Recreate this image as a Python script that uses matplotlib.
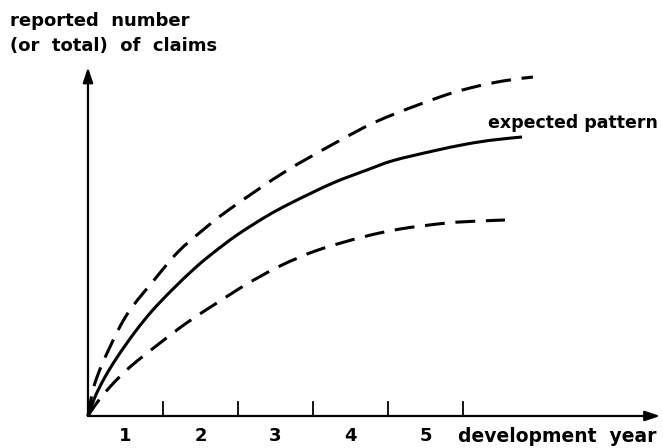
import matplotlib
matplotlib.use('Agg')
import matplotlib.pyplot as plt
from matplotlib.path import Path
from matplotlib.patches import PathPatch
import numpy as np

# Sketch of a claims development pattern with upper/lower bands
# (x in development years, y in arbitrary units)
upper_x = [0, 0.093, 0.293, 0.533, 0.893, 1.2, 1.533, 1.893, 2.6, 3.32,
           3.893, 4.653, 5.093, 5.533, 5.933]
upper_y = [0, 0.44, 0.92, 1.373, 1.827, 2.187, 2.48, 2.76, 3.24, 3.653,
           3.947, 4.24, 4.373, 4.467, 4.52]

expected_x = [0, 0.093, 0.227, 0.4, 0.627, 0.853, 1.12, 1.427, 1.667, 1.987,
              2.387, 2.733, 3.267, 3.72, 4.067, 4.6, 5.053, 5.4, 5.787]
expected_y = [0, 0.253, 0.52, 0.8, 1.12, 1.4, 1.68, 1.973, 2.173, 2.413,
              2.667, 2.853, 3.107, 3.28, 3.405, 3.533, 3.627, 3.68, 3.72]

lower_x = [0, 0.107, 0.293, 0.56, 0.96, 1.333, 1.76, 2.12, 2.56, 3.067,
           3.667, 4.16, 4.787, 5.227, 5.56]
lower_y = [0, 0.16, 0.387, 0.653, 0.973, 1.253, 1.533, 1.76, 2.0, 2.213,
           2.387, 2.493, 2.573, 2.6, 2.613]

years = [1, 2, 3, 4, 5]
year_labels = ['1', '2', '3', '4', '5']


def smooth_path(xs, ys):
    # Catmull-Rom through the read points, handed to matplotlib as Bezier curves
    p = np.column_stack([xs, ys]).astype(float)
    verts = [p[0]]
    codes = [Path.MOVETO]
    for i in range(len(p) - 1):
        p0 = p[i - 1] if i > 0 else p[i]
        p3 = p[i + 2] if i + 2 < len(p) else p[i + 1]
        c1 = p[i] + (p[i + 1] - p0) / 6.0
        c2 = p[i + 1] - (p3 - p[i]) / 6.0
        verts += [c1, c2, p[i + 1]]
        codes += [Path.CURVE4] * 3
    return Path(verts, codes)


fig = plt.figure(figsize=(6.63, 4.48), dpi=100)
ax = fig.add_axes([0, 0, 1, 1])
ax.set_xlim(-1.173, 7.667)
ax.set_ylim(-0.427, 5.547)
ax.axis('off')

font = dict(family='DejaVu Sans', fontweight='bold', fontsize=13, color='black')

# axes with arrow heads
arrow = dict(arrowstyle='-|>,head_length=0.9,head_width=0.3', lw=1.6,
             color='black', shrinkA=0, shrinkB=0)
ax.annotate('', xy=(7.63, 0), xytext=(0, 0), arrowprops=arrow)
ax.annotate('', xy=(0, 4.65), xytext=(0, 0), arrowprops=arrow)

# tick marks between years, labels centred in each year
for t in years:
    ax.plot([t, t], [0, 0.19], color='black', lw=1.3)
for t, lab in zip(years, year_labels):
    ax.text(t - 0.5, -0.27, lab, ha='center', va='center', **font)

ax.text(4.93, -0.27, 'development  year', ha='left', va='center',
        **dict(font, fontsize=13.5))
ax.text(-1.04, 5.39, 'reported  number\n(or  total)  of  claims', ha='left',
        va='top', linespacing=1.5, **font)
ax.text(5.33, 3.91, 'expected pattern', ha='left', va='center',
        **dict(font, fontsize=12.5))

dash = (0, (6.5, 3.5))
for xs, ys, ls in [(upper_x, upper_y, dash),
                   (expected_x, expected_y, '-'),
                   (lower_x, lower_y, dash)]:
    ax.add_patch(PathPatch(smooth_path(xs, ys), fill=False, edgecolor='black',
                           lw=2.2, linestyle=ls, capstyle='butt'))

fig.savefig('out.png', dpi=100)
